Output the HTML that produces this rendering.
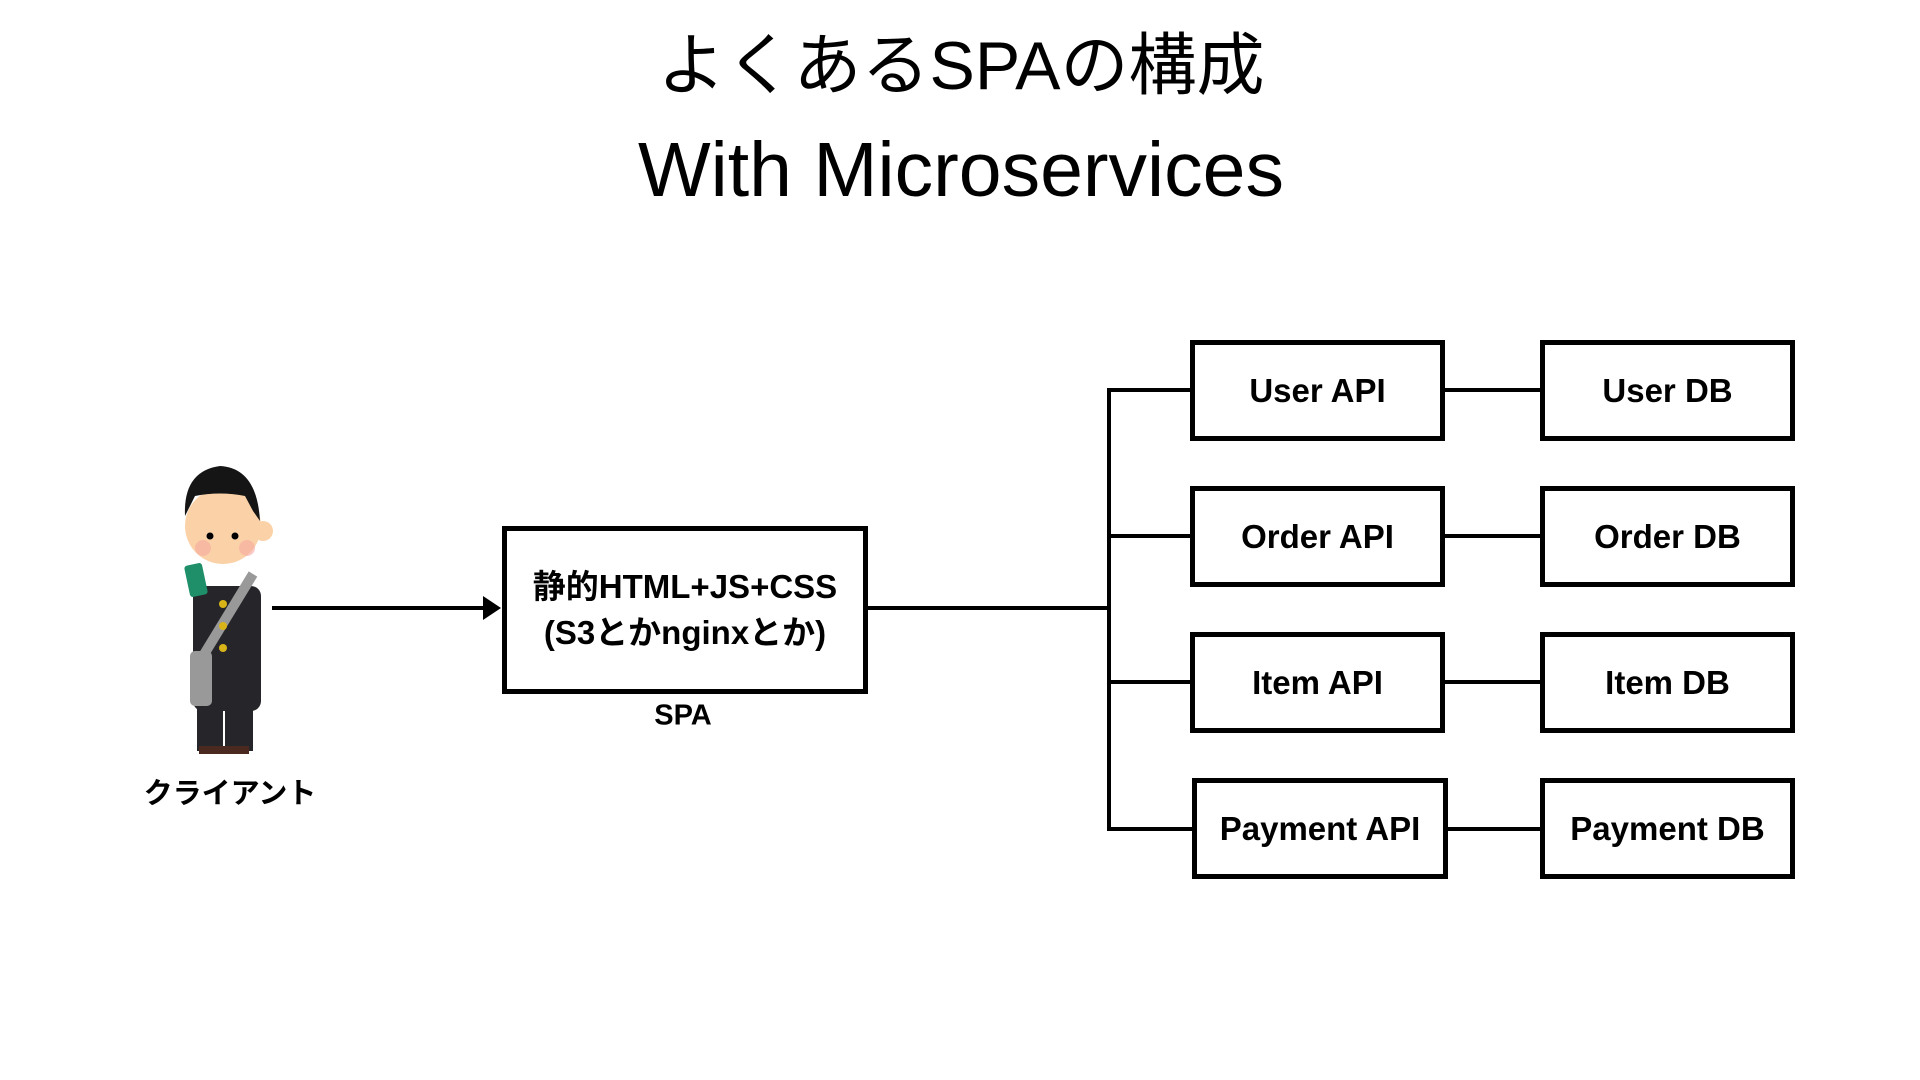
<!DOCTYPE html>
<html><head><meta charset="utf-8"><style>
body{margin:0;width:1920px;height:1080px;background:#fff;overflow:hidden;position:relative;font-family:"Liberation Sans","Noto Sans CJK JP",sans-serif;color:#000}
.t{position:absolute;left:0;width:1922px;text-align:center}
.b{position:absolute;border:5px solid #000;box-sizing:border-box;display:flex;align-items:center;justify-content:center;font-weight:bold;font-size:33px;text-align:center;line-height:46px;background:#fff}
.l{position:absolute;background:#000}
.lb{position:absolute;font-weight:bold;font-size:29px;transform:translate(-50%,-50%);white-space:nowrap}
</style></head><body>
<div class="t" style="top:22px;font-size:68px;line-height:88px">よくあるSPAの構成</div>
<div class="t" style="top:125px;font-size:77px;line-height:90px">With Microservices</div>

<!-- person -->
<svg style="position:absolute;left:165px;top:456px" width="130" height="310" viewBox="0 0 130 310">
<rect x="28" y="130" width="68" height="125" rx="10" fill="#26262a"/>
<rect x="32" y="240" width="26" height="55" fill="#26262a"/><rect x="60" y="240" width="28" height="55" fill="#26262a"/>
<rect x="34" y="290" width="50" height="8" fill="#4a2a20"/>
<rect x="25" y="195" width="22" height="55" rx="5" fill="#999"/>
<line x1="88" y1="118" x2="35" y2="205" stroke="#999" stroke-width="10"/>
<circle cx="58" cy="70" r="38" fill="#fbd2a8"/>
<circle cx="98" cy="75" r="10" fill="#fbd2a8"/>
<path d="M20 60 Q18 15 55 10 Q92 12 95 65 L88 55 L80 40 Q55 35 30 40 Z" fill="#151515"/>
<circle cx="45" cy="80" r="3.5" fill="#000"/><circle cx="70" cy="80" r="3.5" fill="#000"/>
<circle cx="38" cy="92" r="8" fill="#f6a9a0" opacity=".6"/><circle cx="82" cy="92" r="8" fill="#f6a9a0" opacity=".6"/>
<rect x="22" y="108" width="18" height="32" rx="3" fill="#1f8f6a" transform="rotate(-12 31 124)"/>
<circle cx="58" cy="148" r="4" fill="#d9b418"/><circle cx="58" cy="170" r="4" fill="#d9b418"/><circle cx="58" cy="192" r="4" fill="#d9b418"/>
</svg>
<div class="lb" style="left:230px;top:791px">クライアント</div>

<!-- arrow -->
<div class="l" style="left:272px;top:606px;width:215px;height:4px"></div>
<svg style="position:absolute;left:483px;top:596px" width="18" height="24"><polygon points="0,0 18,12 0,24" fill="#000"/></svg>

<div class="b" style="left:502px;top:526px;width:366px;height:168px">静的HTML+JS+CSS<br>(S3とかnginxとか)</div>
<div class="lb" style="left:683px;top:716px">SPA</div>

<div class="l" style="left:866px;top:606px;width:245px;height:4px"></div>
<div class="l" style="left:1107px;top:388px;width:4px;height:443px"></div>

<div class="l" style="left:1107px;top:388px;width:85px;height:4px"></div>
<div class="l" style="left:1107px;top:534px;width:85px;height:4px"></div>
<div class="l" style="left:1107px;top:680px;width:85px;height:4px"></div>
<div class="l" style="left:1107px;top:827px;width:88px;height:4px"></div>

<div class="l" style="left:1442px;top:388px;width:100px;height:4px"></div>
<div class="l" style="left:1442px;top:534px;width:100px;height:4px"></div>
<div class="l" style="left:1442px;top:680px;width:100px;height:4px"></div>
<div class="l" style="left:1445px;top:827px;width:97px;height:4px"></div>

<div class="b" style="left:1190px;top:340px;width:255px;height:101px">User API</div>
<div class="b" style="left:1540px;top:340px;width:255px;height:101px">User DB</div>
<div class="b" style="left:1190px;top:486px;width:255px;height:101px">Order API</div>
<div class="b" style="left:1540px;top:486px;width:255px;height:101px">Order DB</div>
<div class="b" style="left:1190px;top:632px;width:255px;height:101px">Item API</div>
<div class="b" style="left:1540px;top:632px;width:255px;height:101px">Item DB</div>
<div class="b" style="left:1192px;top:778px;width:256px;height:101px">Payment API</div>
<div class="b" style="left:1540px;top:778px;width:255px;height:101px">Payment DB</div>
</body></html>
